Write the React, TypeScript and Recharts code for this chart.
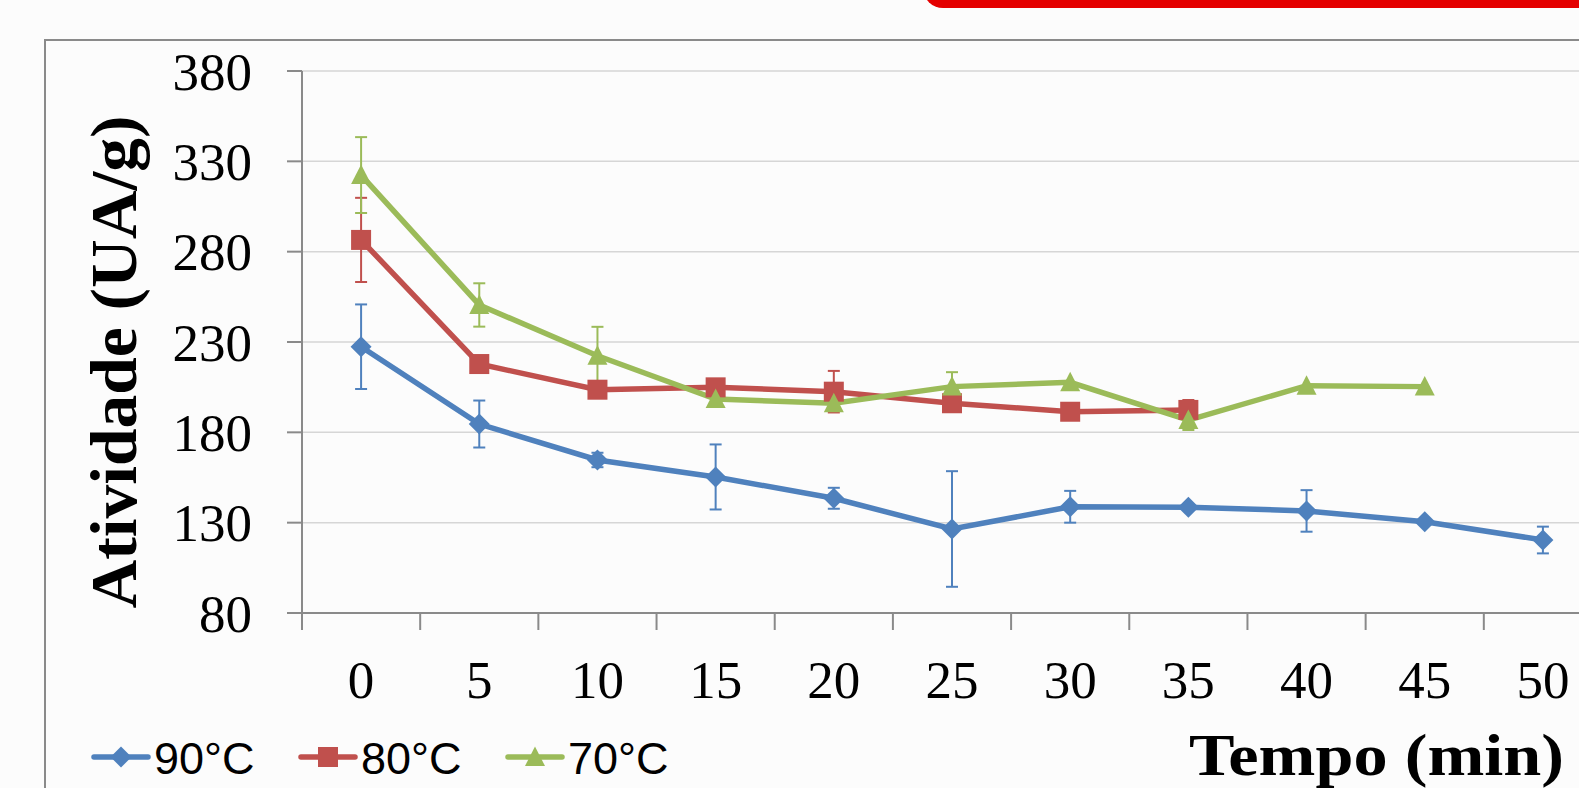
import React from 'react';
import { LineChart, Line, XAxis, YAxis, CartesianGrid, ErrorBar, Legend, Label } from 'recharts';

const times = [0, 5, 10, 15, 20, 25, 30, 35, 40, 45, 50];
const activity90 = [227.4, 184.6, 164.7, 155.3, 143.5, 126.5, 138.8, 138.5, 136.5, 130.5, 120.4];
const error90 = [23.4, 13, 4, 18, 5.8, 32, 8.8, null, 11.5, null, 7.4];
const activity80 = [286.5, 217.8, 203.6, 204.9, 202.5, 196.1, 191.4, 192.4, null, null, null];
const error80 = [23.3, 2.5, null, 2, 11.5, null, null, 5.5, null, null, null];
const activity70 = [322.4, 250.5, 222.4, 198.4, 196.1, 205.3, 207.7, 186.8, 205.8, 205.3, null];
const error70 = [21, 12, 16, 3, 3, 8, null, 5.5, null, null, null];
const yTicks = [80, 130, 180, 230, 280, 330, 380];
const categoryBounds = [-2.5, 2.5, 7.5, 12.5, 17.5, 22.5, 27.5, 32.5, 37.5, 42.5, 47.5];
const seriesNames = ['90°C', '80°C', '70°C'];
const seriesColors = ['#4F81BD', '#C0504D', '#9BBB59'];
const seriesShapes = ['diamond', 'square', 'triangle'];
const yTitle = 'Atividade (UA/g)';
const xTitle = 'Tempo (min)';

const data = times.map((t, i) => ({
  t,
  a90: activity90[i],
  e90: error90[i],
  a80: activity80[i],
  e80: error80[i],
  a70: activity70[i],
  e70: error70[i],
}));

const axisColor = '#8a8a8a';
const serif = '"Liberation Serif", "Times New Roman", serif';

function Marker({ shape, cx, cy, color }: any) {
  if (shape === 'diamond') {
    return <path d={`M${cx},${cy - 10.5}L${cx + 10.5},${cy}L${cx},${cy + 10.5}L${cx - 10.5},${cy}Z`} fill={color} />;
  }
  if (shape === 'square') {
    return <rect x={cx - 10} y={cy - 10} width={20} height={20} fill={color} />;
  }
  return <path d={`M${cx},${cy - 10.5}L${cx + 10},${cy + 9}L${cx - 10},${cy + 9}Z`} fill={color} />;
}

const makeDot = (shape: string, color: string) => (p: any) => {
  if (p.cx == null || p.cy == null || p.value == null || Number.isNaN(p.cy)) return <g key={`d${p.index}`} />;
  return (
    <g key={`d${p.index}`}>
      <Marker shape={shape} cx={p.cx} cy={p.cy} color={color} />
    </g>
  );
};

const XTick = (props: any) => {
  const { x, y, payload } = props;
  const v = payload.value;
  if (categoryBounds.includes(v)) {
    return <line x1={x} x2={x} y1={y} y2={y + 17} stroke={axisColor} strokeWidth={2} />;
  }
  return (
    <text x={x} y={y + 47} dy="0.71em" textAnchor="middle" fontFamily={serif} fontSize={53} fill="#000">
      {v}
    </text>
  );
};

const LegendContent = (props: any) => {
  const payload = props.payload || [];
  return (
    <svg width={680} height={60} style={{ display: 'block', overflow: 'visible' }}>
      {payload.map((entry: any, i: number) => {
        const idx = seriesNames.indexOf(entry.value);
        const k = idx >= 0 ? idx : i;
        return (
          <g key={entry.value} transform={`translate(${k * 207},0)`}>
            <line x1={2} x2={56} y1={30} y2={30} stroke={seriesColors[k]} strokeWidth={5.5} strokeLinecap="round" />
            <Marker shape={seriesShapes[k]} cx={29} cy={30} color={seriesColors[k]} />
            <text x={62} y={46.5} fontFamily='"Liberation Sans", Arial, sans-serif' fontSize={45} fill="#000">
              {entry.value}
            </text>
          </g>
        );
      })}
    </svg>
  );
};

export default function App() {
  const keys = ['90', '80', '70'];
  return (
    <div
      style={{
        position: 'absolute',
        left: 0,
        top: 0,
        width: 1579,
        height: 788,
        overflow: 'hidden',
        background: '#fcfcfc',
      }}
    >
      <div
        style={{
          position: 'absolute',
          left: 923,
          top: -30,
          width: 700,
          height: 38,
          background: '#e40000',
          borderBottomLeftRadius: 20,
        }}
      />
      <div
        style={{
          position: 'absolute',
          left: 44,
          top: 39,
          width: 1620,
          height: 820,
          border: '2px solid #8a8a8a',
          boxSizing: 'border-box',
        }}
      />
      <div style={{ position: 'absolute', left: 0, top: 0 }}>
        <LineChart width={1640} height={820} data={data} margin={{ top: 71, right: 38, bottom: 7, left: 0 }}>
          <CartesianGrid horizontal vertical={false} stroke="#d6d6d6" strokeWidth={1.5} />
          <XAxis
            dataKey="t"
            type="number"
            domain={[-2.5, 52.5]}
            ticks={[...categoryBounds, ...times]}
            interval={0}
            tickLine={false}
            tickSize={0}
            tickMargin={0}
            height={200}
            axisLine={{ stroke: axisColor, strokeWidth: 2 }}
            tick={<XTick />}
          >
            <Label
              content={(p: any) => {
                const vb = p.viewBox || { x: 302, y: 613, width: 1300, height: 200 };
                return (
                  <text
                    x={vb.x + vb.width - 38}
                    y={vb.y + 162}
                    textAnchor="end"
                    fontFamily={serif}
                    fontWeight="bold"
                    fontSize={60}
                    textLength={375}
                    lengthAdjust="spacingAndGlyphs"
                    fill="#000"
                  >
                    {xTitle}
                  </text>
                );
              }}
            />
          </XAxis>
          <YAxis
            type="number"
            domain={[80, 380]}
            ticks={yTicks}
            interval={0}
            width={302}
            tickSize={15}
            tickMargin={35}
            axisLine={{ stroke: axisColor, strokeWidth: 2 }}
            tickLine={{ stroke: axisColor, strokeWidth: 2 }}
            tick={{ fontFamily: serif, fontSize: 53, fill: '#000' }}
          >
            <Label
              content={(p: any) => {
                const vb = p.viewBox || { x: 0, y: 71, width: 302, height: 542 };
                const cx = vb.x + 136;
                const cy = vb.y + vb.height / 2 + 20;
                return (
                  <text
                    x={cx}
                    y={cy}
                    transform={`rotate(-90 ${cx} ${cy})`}
                    textAnchor="middle"
                    fontFamily={serif}
                    fontWeight="bold"
                    fontSize={65}
                    textLength={493}
                    lengthAdjust="spacingAndGlyphs"
                    fill="#000"
                  >
                    {yTitle}
                  </text>
                );
              }}
            />
          </YAxis>
          <Legend
            layout="horizontal"
            verticalAlign="middle"
            align="center"
            wrapperStyle={{ left: 92, top: 727, width: 680, height: 60 }}
            content={<LegendContent />}
          />
          {keys.map((k, i) => (
            <Line
              key={k}
              type="linear"
              dataKey={`a${k}`}
              name={seriesNames[i]}
              stroke={seriesColors[i]}
              strokeWidth={5.5}
              dot={makeDot(seriesShapes[i], seriesColors[i])}
              activeDot={false}
              isAnimationActive={false}
              connectNulls={false}
            >
              <ErrorBar dataKey={`e${k}`} width={6} strokeWidth={2} stroke={seriesColors[i]} direction="y" />
            </Line>
          ))}
        </LineChart>
      </div>
    </div>
  );
}
